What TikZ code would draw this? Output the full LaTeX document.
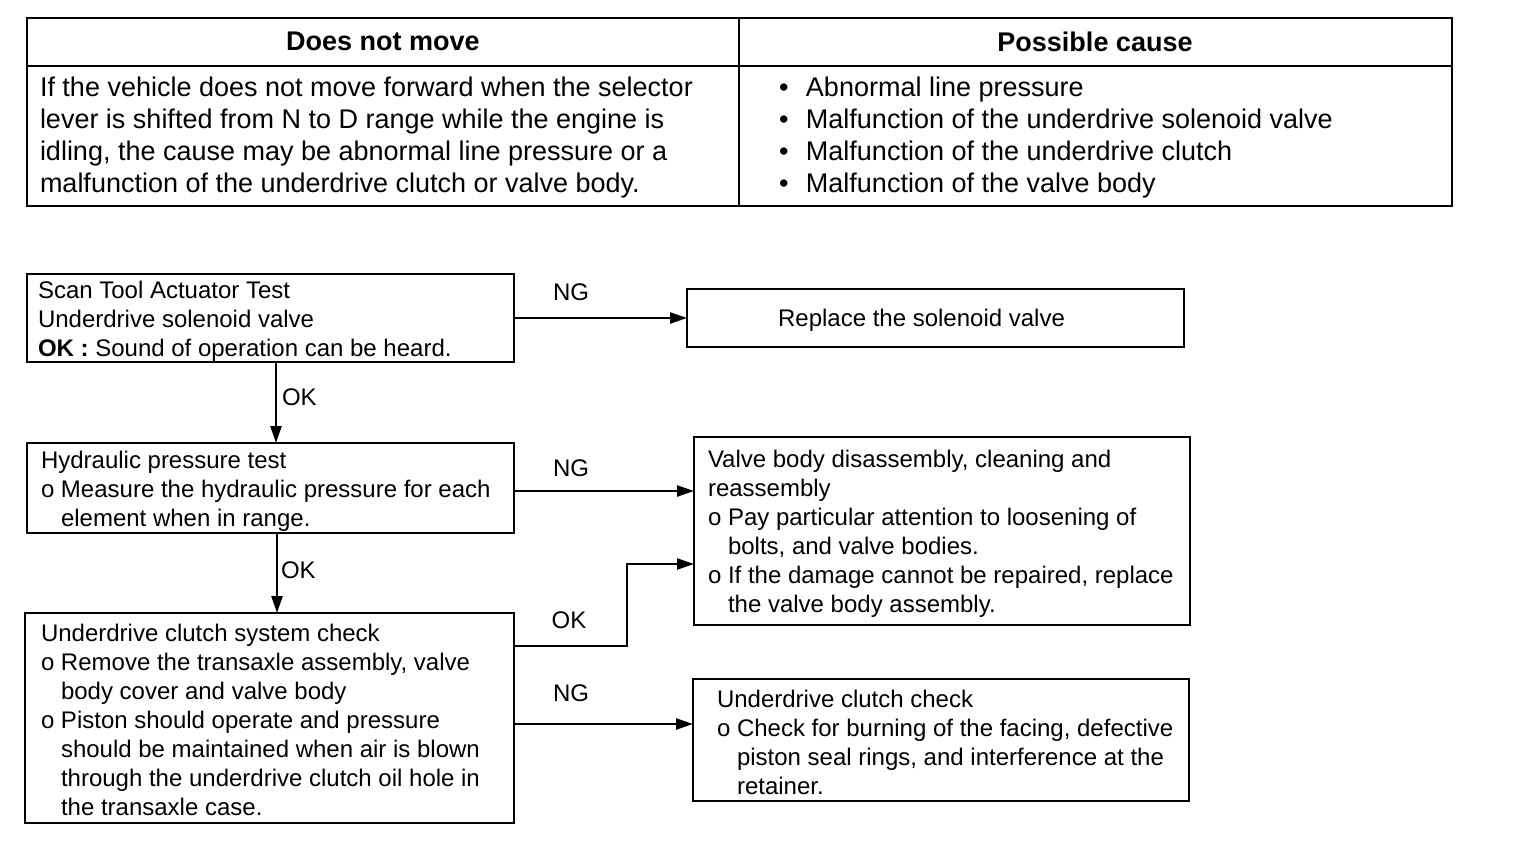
\documentclass[tikz,border=0pt]{standalone}
\usepackage{fontspec}
\setmainfont{Liberation Sans}
\usetikzlibrary{arrows.meta}
\newcommand{\flowfont}{\fontsize{24}{29}\selectfont}
\newcommand{\tabfont}{\fontsize{27}{32}\selectfont}
\newcommand{\hangind}{\hphantom{o\ }}
\begin{document}
\begin{tikzpicture}[x=1pt,y=-1pt,
  every node/.style={inner sep=0pt, outer sep=0pt},
  box/.style={draw, line width=2.4pt},
  txt/.style={font=\flowfont, align=left, anchor=west},
  lbl/.style={font=\flowfont},
  tab/.style={font=\tabfont, align=left, anchor=west},
  hdr/.style={font=\tabfont\bfseries},
  rule/.style={line width=2.4pt},
  conn/.style={line width=2.4pt, -{Triangle[length=17pt,width=11pt]}}
]
\useasboundingbox (0,0) rectangle (1520,850);
% ---------- table ----------
\node[box, minimum width=1425pt, minimum height=188pt] (T) at (739.5,112) {};
\coordinate (hl) at (0,66);
\coordinate (vd) at (739,0);
\draw[rule] (T.west |- hl) -- (T.east |- hl);
\draw[rule] (T.north -| vd) -- (T.south -| vd);
\node[hdr] (h1) at (383,41) {Does not move};
\node[hdr] (h2) at (1095,42) {Possible cause};
\node[tab] (t1) at (40,138) {If the vehicle does not move forward when the selector\\lever is shifted from N to D range while the engine is\\idling, the cause may be abnormal line pressure or a\\malfunction of the underdrive clutch or valve body.};
\node[tab] (t2) at (779,138) {\makebox[27pt][l]{•}Abnormal line pressure\\\makebox[27pt][l]{•}Malfunction of the underdrive solenoid valve\\\makebox[27pt][l]{•}Malfunction of the underdrive clutch\\\makebox[27pt][l]{•}Malfunction of the valve body};
% ---------- flowchart boxes ----------
\node[box, minimum width=487pt, minimum height=88pt] (A) at (270.5,318) {};
\node[txt] (At) at ([xshift=11pt,yshift=-3pt]A.west) {Scan Tool Actuator Test\\Underdrive solenoid valve\\\textbf{OK :} Sound of operation can be heard.};
\node[box, minimum width=497pt, minimum height=58pt] (R) at (935.5,318) {};
\node[lbl] (Rt) at ([xshift=-14pt,yshift=-2pt]R.center) {Replace the solenoid valve};
\node[box, minimum width=487pt, minimum height=90pt] (B) at (270.5,488) {};
\node[txt] (Bt) at ([xshift=14pt,yshift=-3pt]B.west) {Hydraulic pressure test\\o Measure the hydraulic pressure for each\\\hangind element when in range.};
\node[box, minimum width=496pt, minimum height=188pt] (V) at (942,531) {};
\node[txt] (Vt) at ([xshift=14pt,yshift=-3pt]V.west) {Valve body disassembly, cleaning and\\reassembly\\o Pay particular attention to loosening of\\\hangind bolts, and valve bodies.\\o If the damage cannot be repaired, replace\\\hangind the valve body assembly.};
\node[box, minimum width=489pt, minimum height=210pt] (C) at (269.5,718) {};
\node[txt] (Ct) at ([xshift=16pt,yshift=-2pt]C.west) {Underdrive clutch system check\\o Remove the transaxle assembly, valve\\\hangind body cover and valve body\\o Piston should operate and pressure\\\hangind should be maintained when air is blown\\\hangind through the underdrive clutch oil hole in\\\hangind the transaxle case.};
\node[box, minimum width=496pt, minimum height=122pt] (U) at (941,740) {};
\node[txt] (Ut) at ([xshift=24pt,yshift=-2pt]U.west) {Underdrive clutch check\\o Check for burning of the facing, defective\\\hangind piston seal rings, and interference at the\\\hangind retainer.};
% ---------- connectors ----------
\draw[conn] (A.east) -- (R.west);
\draw[conn] ([xshift=5.5pt]A.south) -- ([xshift=5.5pt]A.south |- B.north);
\draw[conn] ([yshift=-3pt]B.east) -- ([yshift=-3pt]B.east -| V.west);
\draw[conn] ([xshift=6.5pt]B.south) -- ([xshift=6.5pt]B.south |- C.north);
\draw[conn] ([yshift=72pt]C.east) -- ++(113,0) |- ([yshift=-33pt]V.west);
\draw[conn] ([yshift=-6pt]C.east) -- ([yshift=-6pt]C.east -| U.west);
% ---------- labels ----------
\node[lbl] (ng1) at (571,292) {NG};
\node[lbl, anchor=west] (ok1) at (282,397) {OK};
\node[lbl] (ng2) at (571,468) {NG};
\node[lbl, anchor=west] (ok2) at (281,570) {OK};
\node[lbl] (ok3) at (569,620) {OK};
\node[lbl] (ng3) at (571,693) {NG};
\end{tikzpicture}
\end{document}
